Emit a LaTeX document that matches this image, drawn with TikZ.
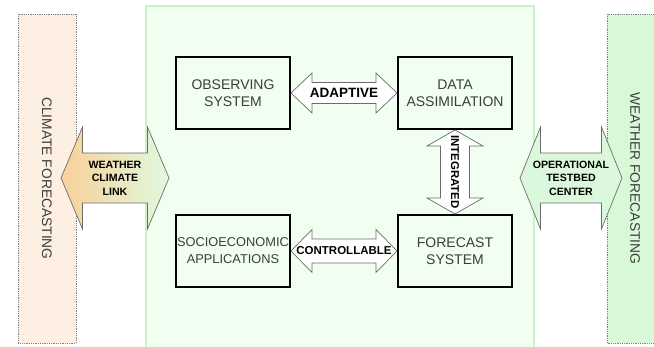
\documentclass[tikz,border=0pt]{standalone}
\usepackage{fontspec}
\setmainfont{Liberation Sans}
\usetikzlibrary{positioning,calc}

\definecolor{climatefill}{RGB}{253,239,225}
\definecolor{weatherfill}{RGB}{216,248,216}
\definecolor{panelfill}{RGB}{241,255,241}
\definecolor{panelline}{RGB}{200,242,200}
\definecolor{linkorange}{RGB}{248,208,152}
\definecolor{linkgreen}{RGB}{224,250,224}
\definecolor{testbedfill}{RGB}{220,248,220}
\definecolor{textgray}{RGB}{60,60,60}

% horizontal block arrow: [style] {tail} {tip} {half shaft} {half head} {head length}
\newcommand\hblock[6][]{%
  \draw [blockarrow,#1] (#2)
    -- ([shift={(#6,-#5)}]#2) -- ([shift={(#6,-#4)}]#2)
    -- ([shift={(-#6,-#4)}]#3) -- ([shift={(-#6,-#5)}]#3) -- (#3)
    -- ([shift={(-#6,#5)}]#3) -- ([shift={(-#6,#4)}]#3)
    -- ([shift={(#6,#4)}]#2) -- ([shift={(#6,#5)}]#2) -- cycle;}
% vertical block arrow, same arguments, top end first
\newcommand\vblock[6][]{%
  \draw [blockarrow,#1] (#2)
    -- ([shift={(#5,#6)}]#2) -- ([shift={(#4,#6)}]#2)
    -- ([shift={(#4,-#6)}]#3) -- ([shift={(#5,-#6)}]#3) -- (#3)
    -- ([shift={(-#5,-#6)}]#3) -- ([shift={(-#4,-#6)}]#3)
    -- ([shift={(-#4,#6)}]#2) -- ([shift={(-#5,#6)}]#2) -- cycle;}

\begin{document}
\begin{tikzpicture}
    [ x = 1pt, y = -1pt
    , box/.style =
      { draw=black, line width=2pt, minimum width=114pt, minimum height=72pt
      , inner sep=1pt, align=center, text=textgray
      , font=\fontsize{14}{17}\selectfont }
    , sidebox/.style =
      { rotate=-90, minimum width=329pt, inner sep=0pt, text=textgray
      , dash pattern=on 1pt off .8pt, draw=gray, line width=.8pt
      , font=\fontsize{13.8}{16}\selectfont }
    , blockarrow/.style =
      { draw=gray!85!black, line width=.7pt, fill=white }
    , arrowlabel/.style =
      { inner sep=0pt, font=\bfseries\fontsize{13.5}{16}\selectfont }
    , linklabel/.style =
      { inner sep=0pt, align=center, font=\bfseries\fontsize{10.6}{13.5}\selectfont }
    ]
    \useasboundingbox (0,0) rectangle (654,347);

    % side areas and the central panel
    \node [sidebox,fill=climatefill,minimum height=58pt] (climate) at (47,178.5) {CLIMATE FORECASTING};
    \node [sidebox,fill=weatherfill,minimum height=56pt] (weather) at (635,178.5) {WEATHER FORECASTING};
    \draw [panelline,fill=panelfill,line width=1.2pt] (146,6) rectangle (534,352);

    % the four boxes
    \node [box] (obs) at (233,93) {OBSERVING\\SYSTEM};
    \node [box] (da) [right=106pt of obs] {DATA\\ASSIMILATION};
    \node [box,font=\fontsize{12.8}{17}\selectfont] (socio) [below=84pt of obs] {SOCIOECONOMIC\\APPLICATIONS};
    \node [box] (fc) [right=106pt of socio] {FORECAST\\SYSTEM};

    % links between the boxes
    \hblock{obs.east}{da.west}{10.5}{20}{21}
    \hblock{socio.east}{fc.west}{12}{21.5}{21}
    \vblock{da.south}{fc.north}{14.5}{28}{16}
    \node [arrowlabel] (adaptive) at ($(obs.east)!.5!(da.west)$) {ADAPTIVE};
    \node [arrowlabel,font=\bfseries\fontsize{11.5}{14}\selectfont] (controllable)
      at ($(socio.east)!.5!(fc.west)$) {CONTROLLABLE};
    \node [arrowlabel,rotate=-90,font=\bfseries\fontsize{11.4}{14}\selectfont] (integrated)
      at ($(da.south)!.5!(fc.north)$) {INTEGRATED};

    % links to the side areas
    \coordinate (wcl-l) at (61,178);
    \coordinate (wcl-r) at (169,178);
    \coordinate (otc-l) at (520,178);
    \coordinate (otc-r) at (622,178);
    \hblock[left color=linkorange,right color=linkgreen]{wcl-l}{wcl-r}{25}{51}{21.5}
    \hblock[fill=testbedfill]{otc-l}{otc-r}{25}{51}{20.5}
    \node [linklabel] (wcl) at ($(wcl-l)!.5!(wcl-r)$) {WEATHER\\CLIMATE\\LINK};
    \node [linklabel] (otc) at ($(otc-l)!.5!(otc-r)$) {OPERATIONAL\\TESTBED\\CENTER};
\end{tikzpicture}
\end{document}
